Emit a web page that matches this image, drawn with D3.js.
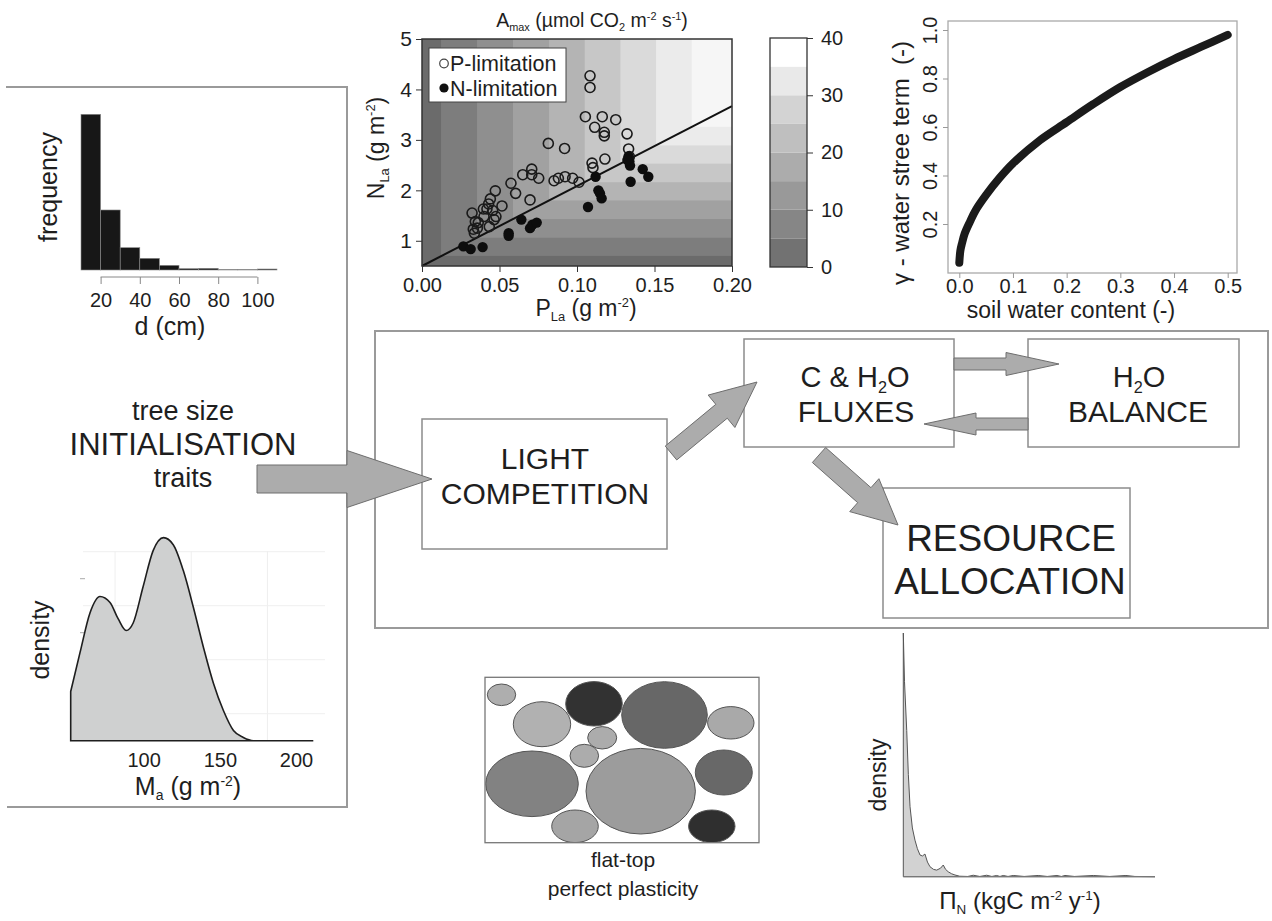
<!DOCTYPE html>
<html>
<head>
<meta charset="utf-8">
<script src="https://cdn.jsdelivr.net/npm/d3@7"></script>
<style>
  body { margin: 0; background: #fff; }
  svg text { font-family: "Liberation Sans", Arial, Helvetica, sans-serif; fill: #1e1e1e; }
</style>
</head>
<body>
<svg id="chart" width="1272" height="921"></svg>
<script>
// ---- data ----

// tree diameter histogram (bin left edges, counts)
const diamBins = [10, 20, 30, 40, 50, 60, 70, 80, 90, 100]
const diamCounts = [467, 180, 67, 35, 14, 4, 5, 1, 1, 3]
const diamTicks = [20, 40, 60, 80, 100]

// leaf N / P scatter
const pLimP = [0.1084, 0.1084, 0.1054, 0.1163, 0.1114, 0.1176, 0.1176, 0.125, 0.1323, 0.1333, 0.1338, 0.118, 0.1097, 0.1103,
  0.0815, 0.092, 0.0708, 0.0708, 0.065, 0.0753, 0.0852, 0.088, 0.0923, 0.0972, 0.1013, 0.0574, 0.0604, 0.0697,
  0.0473, 0.0516, 0.0441, 0.043, 0.0396, 0.0419, 0.0456, 0.0323, 0.0344, 0.0363, 0.0331, 0.0338, 0.0465, 0.0477,
  0.0434, 0.040, 0.0357]
const pLimN = [4.27, 4.04, 3.46, 3.46, 3.25, 3.15, 3.08, 3.40, 3.12, 2.82, 2.67, 2.62, 2.54, 2.45,
  2.93, 2.83, 2.42, 2.31, 2.31, 2.24, 2.19, 2.24, 2.27, 2.24, 2.16, 2.14, 1.94, 1.81,
  1.99, 1.69, 1.83, 1.73, 1.63, 1.63, 1.60, 1.55, 1.38, 1.36, 1.23, 1.15, 1.42, 1.48,
  1.28, 1.48, 1.25]
const nLimP = [0.0267, 0.0314, 0.0391, 0.0559, 0.0559, 0.0641, 0.0697, 0.0712, 0.074, 0.1071, 0.112, 0.1138, 0.1148,
  0.1159, 0.1333, 0.1338, 0.1342, 0.1346, 0.1424, 0.146, 0.1325]
const nLimN = [0.89, 0.835, 0.875, 1.15, 1.10, 1.42, 1.25, 1.32, 1.36, 1.67, 2.27, 2.0, 1.94,
  1.84, 2.67, 2.57, 2.49, 2.17, 2.42, 2.27, 2.6]
const pTicks = [0, 0.05, 0.1, 0.15, 0.2]
const nTicks = [1, 2, 3, 4, 5]
const limitLineP = [0, 0.2]
const limitLineN = [0.5, 3.67]
// Amax level boundaries (P-limited columns, N-limited rows)
const pBreaks = [0.0123, 0.0355, 0.0587, 0.082, 0.105, 0.128, 0.151, 0.174]
const nBreaks = [0.70, 1.06, 1.43, 1.80, 2.16, 2.53, 2.89, 3.26]
const amaxColors = ['#6b6b6b', '#7d7d7d', '#8f8f8f', '#a1a1a1', '#b4b4b4', '#c7c7c7', '#dadada', '#ebebeb', '#f6f6f6']
const barLevels = [0, 5, 10, 15, 20, 25, 30, 35]
const barColors = ['#727272', '#868686', '#999999', '#acacac', '#bfbfbf', '#d3d3d3', '#e9e9e9', '#ffffff']
const barTicks = [0, 10, 20, 30, 40]

// water stress term vs soil water content
const swc = [0, 0.002, 0.005, 0.01, 0.02, 0.03, 0.05, 0.075, 0.1, 0.15, 0.2, 0.25, 0.3, 0.35, 0.4, 0.45, 0.5]
const gammaW = [0.04, 0.09, 0.12, 0.16, 0.21, 0.255, 0.32, 0.39, 0.45, 0.545, 0.62, 0.695, 0.765, 0.825, 0.88, 0.93, 0.98]
const swcTicks = [0, 0.1, 0.2, 0.3, 0.4, 0.5]
const gammaTicks = [0.2, 0.4, 0.6, 0.8, 1.0]

// leaf mass per area density
const maVals = [51.8, 57.9, 64.5, 71, 77.6, 82.9, 88.2, 92.8, 99.3, 105.9, 112.7, 119.1, 125.7, 132.2, 138.8, 145.4, 152, 158.6, 165.1, 171.7, 211]
const maDens = [0.91, 1.63, 2.37, 2.67, 2.56, 2.26, 2.04, 2.18, 2.85, 3.52, 3.76, 3.63, 3.15, 2.48, 1.74, 1.07, 0.56, 0.19, 0.06, 0, 0]
const maTicks = [100, 150, 200]

// N-uptake cost density
const piVals = [0, 0.012, 0.034, 0.05, 0.067, 0.09, 0.116, 0.14, 0.166, 0.19, 0.215, 0.24, 0.265, 0.3, 0.332, 0.37, 0.397, 0.42,
  0.447, 0.48, 0.513, 0.56, 0.64, 0.695, 0.76, 0.828, 0.88, 0.927, 0.96, 0.993, 1.04, 1.092, 1.2, 1.34, 1.43, 1.526, 1.57,
  1.606, 1.7, 1.887, 2.05, 2.211, 2.3, 2.5]
const piDens = [1.0, 0.80, 0.60, 0.42, 0.287, 0.2, 0.15, 0.115, 0.089, 0.085, 0.093, 0.06, 0.041, 0.03, 0.027, 0.035, 0.048, 0.03,
  0.02, 0.012, 0.007, 0.002, 0.001, 0.006, 0.001, 0.006, 0.001, 0.005, 0.001, 0.005, 0.001, 0.005, 0.001, 0.005, 0.001, 0.005, 0.001,
  0.005, 0.001, 0.005, 0.001, 0.005, 0.001, 0]

// flat-top crowns (box-relative position, radii, shade)
const crownX = [16.5, 57, 109, 179.5, 245.8, 117.2, 99.3, 47, 155.7, 238.8, 90, 226.8]
const crownY = [17.5, 46.9, 26.5, 37.7, 45.5, 60.5, 78.5, 106.5, 113.9, 95.2, 149, 149]
const crownRx = [14.2, 28.7, 28.3, 42.8, 23.2, 14.5, 14.3, 46.3, 54.7, 28.5, 23.3, 23.2]
const crownRy = [10.8, 22.5, 22.2, 33.3, 16.2, 11.2, 11.5, 32.8, 42.8, 22.5, 16.3, 16.3]
const crownShade = ['#aeaeae', '#b1b1b1', '#323232', '#676767', '#a9a9a9', '#acacac', '#acacac', '#828282', '#9c9c9c', '#686868', '#a5a5a5', '#2f2f2f']

const svg = d3.select('#chart')
const frameColor = '#9a9a9a'

// text with sub/superscripts
function richText(parent, x, y, parts, size, anchor, rotate) {
  let t = parent.append('text')
    .attr('x', x)
    .attr('y', y)
    .attr('font-size', size)
    .attr('text-anchor', anchor || 'middle')
  if (rotate) t.attr('transform', `rotate(-90,${x},${y})`)
  let shift = 0
  parts.forEach(p => {
    let s = typeof p === 'string' ? { t: p } : p
    let target = s.sub ? size * 0.2 : s.sup ? -size * 0.38 : 0
    t.append('tspan')
      .attr('dy', target - shift)
      .attr('font-size', s.sub || s.sup ? size * 0.56 : size)
      .text(s.t)
    shift = target
  })
  return t
}

function styleAxis(g, size, color) {
  g.attr('font-size', null).attr('font-family', null)
  g.selectAll('line').attr('stroke', color)
  g.selectAll('text').attr('font-size', size).attr('fill', '#222')
}

// ---- frames ----
svg.append('path')
  .attr('d', 'M6,87 H347 V807 H7')
  .attr('fill', 'none')
  .attr('stroke', frameColor)
  .attr('stroke-width', 2)

svg.append('rect')
  .attr('x', 375).attr('y', 331).attr('width', 893).attr('height', 297)
  .attr('fill', 'none')
  .attr('stroke', frameColor)
  .attr('stroke-width', 2)

// ---- histogram ----
let xHist = d3.scaleLinear().domain([10, 110]).range([81, 277])
let yHist = d3.scaleLinear().domain([0, 467]).range([270, 114.3])

svg.append('g')
  .selectAll('rect')
  .data(diamBins)
  .enter()
  .append('rect')
  .attr('x', d => xHist(d))
  .attr('width', d => xHist(d + 10) - xHist(d))
  .attr('y', (d, i) => yHist(diamCounts[i]))
  .attr('height', (d, i) => yHist(0) - yHist(diamCounts[i]))
  .attr('fill', '#171717')
  .attr('stroke', '#8a8a8a')
  .attr('stroke-width', 0.6)

let histAxis = svg.append('g')
  .attr('transform', 'translate(0,277)')
  .call(d3.axisBottom(xHist).tickValues(diamTicks).tickSize(7).tickPadding(9))
histAxis.select('.domain').remove()
histAxis.append('line')
  .attr('x1', xHist(20)).attr('x2', xHist(100))
  .attr('stroke', '#888')
styleAxis(histAxis, 20, '#888')

svg.append('text').attr('x', 170).attr('y', 335).attr('font-size', 25).attr('text-anchor', 'middle').text('d (cm)')
svg.append('text').attr('transform', 'translate(57,187) rotate(-90)').attr('font-size', 25).attr('text-anchor', 'middle').text('frequency')

// ---- N/P scatter with Amax background ----
let xScat = d3.scaleLinear().domain([0, 0.2]).range([422, 732])
let yScat = d3.scaleLinear().domain([0.5, 5]).range([266, 39])

let scat = svg.append('g')
scat.append('rect')
  .attr('x', xScat(0)).attr('y', yScat(5))
  .attr('width', xScat(0.2) - xScat(0)).attr('height', yScat(0.5) - yScat(5))
  .attr('fill', amaxColors[0])

scat.selectAll('.amax')
  .data(pBreaks)
  .enter()
  .append('rect')
  .attr('class', 'amax')
  .attr('x', d => xScat(d))
  .attr('y', yScat(5))
  .attr('width', d => xScat(0.2) - xScat(d))
  .attr('height', (d, i) => yScat(nBreaks[i]) - yScat(5))
  .attr('fill', (d, i) => amaxColors[i + 1])

scat.append('line')
  .attr('x1', xScat(limitLineP[0])).attr('y1', yScat(limitLineN[0]))
  .attr('x2', xScat(limitLineP[1])).attr('y2', yScat(limitLineN[1]))
  .attr('stroke', '#111')
  .attr('stroke-width', 2)

scat.selectAll('.plim')
  .data(pLimP)
  .enter()
  .append('circle')
  .attr('class', 'plim')
  .attr('cx', d => xScat(d))
  .attr('cy', (d, i) => yScat(pLimN[i]))
  .attr('r', 5)
  .attr('fill', 'none')
  .attr('stroke', '#1a1a1a')
  .attr('stroke-width', 1.6)

scat.selectAll('.nlim')
  .data(nLimP)
  .enter()
  .append('circle')
  .attr('class', 'nlim')
  .attr('cx', d => xScat(d))
  .attr('cy', (d, i) => yScat(nLimN[i]))
  .attr('r', 5.2)
  .attr('fill', '#0d0d0d')

scat.append('rect')
  .attr('x', xScat(0)).attr('y', yScat(5))
  .attr('width', xScat(0.2) - xScat(0)).attr('height', yScat(0.5) - yScat(5))
  .attr('fill', 'none')
  .attr('stroke', '#333')
  .attr('stroke-width', 1.5)

// legend
scat.append('rect')
  .attr('x', 429).attr('y', 48).attr('width', 137).attr('height', 54)
  .attr('fill', '#fff').attr('stroke', '#444').attr('stroke-width', 1)
scat.append('circle').attr('cx', 444).attr('cy', 63.5).attr('r', 4.3)
  .attr('fill', 'none').attr('stroke', '#444').attr('stroke-width', 1.2)
scat.append('circle').attr('cx', 444).attr('cy', 88).attr('r', 4.6).attr('fill', '#111')
scat.append('text').attr('x', 450).attr('y', 71).attr('font-size', 21.5).text('P-limitation')
scat.append('text').attr('x', 450).attr('y', 95.5).attr('font-size', 21.5).text('N-limitation')

let sx = scat.append('g')
  .attr('transform', `translate(0,${yScat(0.5)})`)
  .call(d3.axisBottom(xScat).tickValues(pTicks).tickFormat(d3.format('.2f')).tickSize(6).tickPadding(6))
sx.select('.domain').remove()
styleAxis(sx, 20, '#333')

let sy = scat.append('g')
  .attr('transform', `translate(${xScat(0)},0)`)
  .call(d3.axisLeft(yScat).tickValues(nTicks).tickFormat(d3.format('d')).tickSize(6).tickPadding(4))
sy.select('.domain').remove()
styleAxis(sy, 21, '#333')

richText(svg, 586, 316, ['P', { t: 'La', sub: true }, ' (g m', { t: '-2', sup: true }, ')'], 23)
richText(svg, 384, 148, ['N', { t: 'La', sub: true }, ' (g m', { t: '-2', sup: true }, ')'], 23, 'middle', true)
richText(svg, 592, 27, ['A', { t: 'max', sub: true }, ' (\u00b5mol CO', { t: '2', sub: true }, ' m', { t: '-2', sup: true }, ' s', { t: '-1', sup: true }, ')'], 19.5)

// colour bar
let yBar = d3.scaleLinear().domain([0, 40]).range([267, 38])
svg.append('g')
  .selectAll('rect')
  .data(barLevels)
  .enter()
  .append('rect')
  .attr('x', 770)
  .attr('width', 37)
  .attr('y', d => yBar(d + 5))
  .attr('height', d => yBar(d) - yBar(d + 5))
  .attr('fill', (d, i) => barColors[i])
svg.append('rect')
  .attr('x', 770).attr('y', yBar(40)).attr('width', 37).attr('height', yBar(0) - yBar(40))
  .attr('fill', 'none').attr('stroke', '#333').attr('stroke-width', 1.3)
let barAxis = svg.append('g')
  .attr('transform', 'translate(807,0)')
  .call(d3.axisRight(yBar).tickValues(barTicks).tickSize(6).tickPadding(8))
barAxis.select('.domain').remove()
styleAxis(barAxis, 20, '#333')

// ---- water stress curve ----
let xW = d3.scaleLinear().domain([0, 0.5]).range([959.3, 1227.7])
let yW = d3.scaleLinear().domain([0.2, 1.0]).range([224, 30])

svg.append('rect')
  .attr('x', 948).attr('y', 21).attr('width', 289).attr('height', 252)
  .attr('fill', 'none').attr('stroke', '#aaa').attr('stroke-width', 1.3)

let gammaLine = d3.line()
  .x((d, i) => xW(d))
  .y((d, i) => yW(gammaW[i]))
  .curve(d3.curveCatmullRom)

svg.append('path')
  .datum(swc)
  .attr('d', gammaLine)
  .attr('fill', 'none')
  .attr('stroke', '#1b1b1b')
  .attr('stroke-width', 8)
  .attr('stroke-linecap', 'round')

let wx = svg.append('g')
  .attr('transform', 'translate(0,273)')
  .call(d3.axisBottom(xW).tickValues(swcTicks).tickFormat(d3.format('.1f')).tickSize(5).tickPadding(1))
wx.select('.domain').remove()
styleAxis(wx, 20, '#999')
wx.selectAll('text').attr('fill', '#333')

let wy = svg.append('g')
  .attr('transform', 'translate(948,0)')
  .call(d3.axisLeft(yW).tickValues(gammaTicks).tickFormat(d3.format('.1f')).tickSize(5))
wy.select('.domain').remove()
styleAxis(wy, 20, '#999')
wy.selectAll('text')
  .attr('fill', '#333')
  .attr('transform', 'rotate(-90)')
  .attr('x', 0)
  .attr('y', -11)
  .attr('dy', 0)
  .attr('text-anchor', 'middle')

svg.append('text').attr('x', 1071).attr('y', 318).attr('font-size', 23).attr('text-anchor', 'middle').text('soil water content (-)')
svg.append('text').attr('transform', 'translate(909,163) rotate(-90)').attr('font-size', 24).attr('text-anchor', 'middle')
  .text('\u03b3 - water stree term \u00a0(-)')

// ---- flow diagram ----
let boxes = [
  { x: 422, y: 419, w: 245, h: 130 },
  { x: 744, y: 339, w: 210, h: 108 },
  { x: 1028, y: 339, w: 211, h: 108 },
  { x: 883, y: 488, w: 247, h: 130 }
]
svg.append('g')
  .selectAll('rect')
  .data(boxes)
  .enter()
  .append('rect')
  .attr('x', d => d.x).attr('y', d => d.y)
  .attr('width', d => d.w).attr('height', d => d.h)
  .attr('fill', '#fff')
  .attr('stroke', '#8c8c8c')
  .attr('stroke-width', 1.5)

function arrowPoints(a) {
  let dx = a.x2 - a.x1, dy = a.y2 - a.y1
  let len = Math.hypot(dx, dy)
  let ux = dx / len, uy = dy / len, px = -uy, py = ux
  let bx = a.x2 - ux * a.hl, by = a.y2 - uy * a.hl
  return [
    [a.x1 + px * a.sw / 2, a.y1 + py * a.sw / 2],
    [bx + px * a.sw / 2, by + py * a.sw / 2],
    [bx + px * a.hw / 2, by + py * a.hw / 2],
    [a.x2, a.y2],
    [bx - px * a.hw / 2, by - py * a.hw / 2],
    [bx - px * a.sw / 2, by - py * a.sw / 2],
    [a.x1 - px * a.sw / 2, a.y1 - py * a.sw / 2]
  ]
}

let arrows = [
  { x1: 257, y1: 479, x2: 432, y2: 479, sw: 28, hw: 57, hl: 85 },
  { x1: 671, y1: 453, x2: 757, y2: 382, sw: 18, hw: 42, hl: 46 },
  { x1: 954, y1: 364, x2: 1059, y2: 364, sw: 12, hw: 23, hl: 53 },
  { x1: 1028, y1: 424, x2: 924, y2: 424, sw: 12, hw: 22, hl: 52 },
  { x1: 819, y1: 455, x2: 898, y2: 525, sw: 20, hw: 44, hl: 45 }
]
svg.append('g')
  .selectAll('polygon')
  .data(arrows)
  .enter()
  .append('polygon')
  .attr('points', d => arrowPoints(d).map(p => p.join(',')).join(' '))
  .attr('fill', '#acacac')
  .attr('stroke', '#6e6e6e')
  .attr('stroke-width', 1)

svg.append('text').attr('x', 545).attr('y', 469).attr('font-size', 30).attr('text-anchor', 'middle').text('LIGHT')
svg.append('text').attr('x', 545).attr('y', 504).attr('font-size', 30).attr('text-anchor', 'middle').text('COMPETITION')
richText(svg, 855, 387, ['C & H', { t: '2', sub: true }, 'O'], 29)
svg.append('text').attr('x', 856).attr('y', 422).attr('font-size', 30).attr('text-anchor', 'middle').text('FLUXES')
richText(svg, 1139, 387, ['H', { t: '2', sub: true }, 'O'], 29)
svg.append('text').attr('x', 1138).attr('y', 422).attr('font-size', 30).attr('text-anchor', 'middle').text('BALANCE')
svg.append('text').attr('x', 1011).attr('y', 551).attr('font-size', 37).attr('text-anchor', 'middle').text('RESOURCE')
svg.append('text').attr('x', 1010).attr('y', 594).attr('font-size', 37).attr('text-anchor', 'middle').text('ALLOCATION')

svg.append('text').attr('x', 183).attr('y', 420).attr('font-size', 27).attr('text-anchor', 'middle').text('tree size')
svg.append('text').attr('x', 183).attr('y', 455).attr('font-size', 31).attr('text-anchor', 'middle').text('INITIALISATION')
svg.append('text').attr('x', 183).attr('y', 487).attr('font-size', 27).attr('text-anchor', 'middle').text('traits')

// ---- Ma density ----
let xMa = d3.scaleLinear().domain([51.8, 211]).range([70.7, 313.3])
let yMa = d3.scaleLinear().domain([0, 4]).range([740.7, 524.7])

let maGrid = svg.append('g').attr('stroke', '#efefef').attr('stroke-width', 1)
;[75, 125, 175].forEach(v => {
  maGrid.append('line').attr('x1', xMa(v) + 9).attr('x2', xMa(v) + 9).attr('y1', 551).attr('y2', 740)
})
;[0.5, 1.5, 2.5, 3.5].forEach(v => {
  maGrid.append('line').attr('x1', 83).attr('x2', 325).attr('y1', yMa(v)).attr('y2', yMa(v))
})
;[1, 2, 3].forEach(v => {
  svg.append('line').attr('x1', 80).attr('x2', 85).attr('y1', yMa(v)).attr('y2', yMa(v))
    .attr('stroke', '#aaa').attr('stroke-width', 1)
})

let maArea = d3.area()
  .x(d => xMa(d))
  .y0(yMa(0))
  .y1((d, i) => yMa(maDens[i]))
  .curve(d3.curveMonotoneX)

svg.append('path')
  .datum(maVals)
  .attr('d', maArea)
  .attr('fill', '#cfd0d0')
  .attr('stroke', '#1e1e1e')
  .attr('stroke-width', 1.6)

svg.append('g')
  .selectAll('text')
  .data(maTicks)
  .enter()
  .append('text')
  .attr('x', d => xMa(d))
  .attr('y', 767)
  .attr('font-size', 20)
  .attr('text-anchor', 'middle')
  .attr('fill', '#333')
  .text(d => d)

richText(svg, 188, 795, ['M', { t: 'a', sub: true }, ' (g m', { t: '-2', sup: true }, ')'], 25)
svg.append('text').attr('transform', 'translate(49,640) rotate(-90)').attr('font-size', 25).attr('text-anchor', 'middle').text('density')

// ---- crowns ----
let xCrown = d3.scaleLinear().domain([0, 274]).range([485, 759])
let yCrown = d3.scaleLinear().domain([0, 165.4]).range([677.3, 842.7])

svg.append('defs').append('clipPath').attr('id', 'crownClip')
  .append('rect').attr('x', 485).attr('y', 677.3).attr('width', 274).attr('height', 165.4)

svg.append('g')
  .attr('clip-path', 'url(#crownClip)')
  .selectAll('ellipse')
  .data(crownX)
  .enter()
  .append('ellipse')
  .attr('cx', d => xCrown(d))
  .attr('cy', (d, i) => yCrown(crownY[i]))
  .attr('rx', (d, i) => crownRx[i])
  .attr('ry', (d, i) => crownRy[i])
  .attr('fill', (d, i) => crownShade[i])
  .attr('stroke', '#555')
  .attr('stroke-width', 1)

svg.append('rect')
  .attr('x', 485).attr('y', 677.3).attr('width', 274).attr('height', 165.4)
  .attr('fill', 'none').attr('stroke', '#777').attr('stroke-width', 1.3)

svg.append('text').attr('x', 623).attr('y', 867).attr('font-size', 21).attr('text-anchor', 'middle').text('flat-top')
svg.append('text').attr('x', 623).attr('y', 896).attr('font-size', 21).attr('text-anchor', 'middle').text('perfect plasticity')

// ---- Pi_N density ----
let xPi = d3.scaleLinear().domain([0, 2.5]).range([903.3, 1155])
let yPi = d3.scaleLinear().domain([0, 1]).range([876.7, 633])

let piArea = d3.area()
  .x(d => xPi(d))
  .y0(yPi(0))
  .y1((d, i) => yPi(piDens[i]))

svg.append('path')
  .datum(piVals)
  .attr('d', piArea)
  .attr('fill', '#d2d2d2')
  .attr('stroke', '#555')
  .attr('stroke-width', 1)

svg.append('line')
  .attr('x1', xPi(0)).attr('x2', xPi(2.5))
  .attr('y1', yPi(0)).attr('y2', yPi(0))
  .attr('stroke', '#777').attr('stroke-width', 1.2)

svg.append('text').attr('transform', 'translate(886,775) rotate(-90)').attr('font-size', 23).attr('text-anchor', 'middle').text('density')
richText(svg, 1020, 909, ['\u03a0', { t: 'N', sub: true }, ' (kgC m', { t: '-2', sup: true }, ' y', { t: '-1', sup: true }, ')'], 24)
</script>
</body>
</html>
